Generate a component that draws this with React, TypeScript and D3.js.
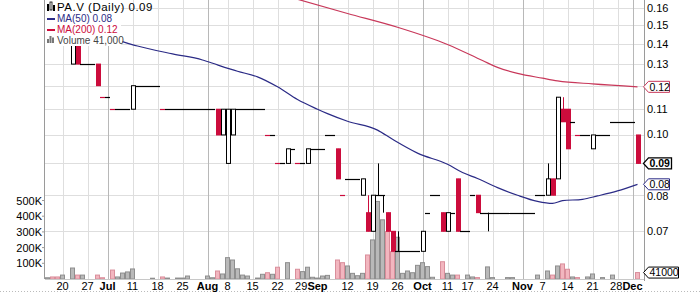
import React from "react";
import * as d3 from "d3";

const dates = ["06-15","06-16","06-17","06-20","06-21","06-22","06-23","06-24","06-27","06-28","06-29","06-30",
"07-04","07-05","07-06","07-07","07-08","07-11","07-12","07-13","07-14","07-15","07-18","07-19","07-20","07-21","07-22","07-25","07-26","07-27","07-28","07-29",
"08-02","08-03","08-04","08-05","08-08","08-09","08-10","08-11","08-12","08-15","08-16","08-17","08-18","08-19","08-22","08-23","08-24","08-25","08-26","08-29","08-30","08-31",
"09-01","09-02","09-06","09-07","09-08","09-09","09-12","09-13","09-14","09-15","09-16","09-19","09-20","09-21","09-22","09-23","09-26","09-27","09-28","09-29","09-30",
"10-03","10-04","10-05","10-06","10-07","10-11","10-12","10-13","10-14","10-17","10-18","10-19","10-20","10-21","10-24","10-25","10-26","10-27","10-28","10-31",
"11-01","11-02","11-03","11-04","11-07","11-08","11-09","11-10","11-11","11-14","11-15","11-16","11-17","11-18","11-21","11-22","11-23","11-24","11-25","11-28","11-29","11-30",
"12-01","12-02"];

const opens = [
.15,.145,.14,.14,.14,.13,.14,.13,.13,.13,
.13,.115,.115,.11,.11,.11,.11,.11,.12,.12,
.12,.12,.12,.11,.11,.11,.11,.11,.11,.11,
.11,.11,.11,.11,.11,.10,.09,.10,.11,.11,
.11,.11,.11,.11,.10,.10,.09,.09,.09,.095,
.09,.09,.09,.095,.095,.095,.10,.10,.095,.08,
.085,.085,.085,.08,.075,.07,.08,.08,.075,.07,
.065,.065,.065,.065,.065,.065,.075,.08,.08,.075,
.07,.075,.085,.07,.07,.08,.08,.075,.075,.075,
.075,.075,.075,.075,.075,.075,.075,.075,.08,.08,
.08,.085,.085,.11,.11,.105,.10,.10,.10,.095,
.10,.10,.10,.105,.105,.105,.105,.105,.10];

const highs = [
.15,.145,.14,.14,.14,.14,.14,.13,.13,.13,
.13,.115,.115,.11,.11,.11,.11,.12,.12,.12,
.12,.12,.12,.11,.11,.11,.11,.11,.11,.11,
.11,.11,.11,.11,.11,.11,.11,.11,.11,.11,
.11,.11,.11,.11,.10,.10,.09,.09,.095,.095,
.09,.09,.095,.095,.095,.095,.10,.10,.095,.08,
.085,.085,.085,.085,.08,.08,.09,.08,.075,.07,
.07,.065,.065,.065,.065,.07,.075,.08,.08,.075,
.075,.075,.085,.07,.07,.08,.08,.075,.075,.075,
.075,.075,.075,.075,.075,.075,.075,.075,.08,.08,
.09,.085,.115,.115,.11,.105,.10,.10,.10,.10,
.10,.10,.10,.105,.105,.105,.105,.105,.10];

const lows = [
.15,.145,.14,.14,.14,.13,.13,.13,.13,.13,
.12,.115,.115,.11,.11,.11,.11,.11,.12,.12,
.12,.12,.12,.11,.11,.11,.11,.11,.11,.11,
.11,.11,.11,.11,.10,.10,.09,.10,.11,.11,
.11,.11,.11,.11,.10,.10,.09,.09,.09,.095,
.09,.09,.09,.095,.095,.095,.10,.10,.085,.08,
.085,.085,.085,.08,.07,.07,.08,.075,.07,.065,
.065,.065,.065,.065,.065,.065,.075,.08,.08,.07,
.07,.075,.07,.07,.07,.08,.075,.075,.07,.075,
.075,.075,.075,.075,.075,.075,.075,.075,.08,.08,
.08,.08,.085,.105,.095,.105,.10,.10,.10,.095,
.10,.10,.10,.105,.105,.105,.105,.105,.09];

const closes = [
.15,.145,.14,.14,.14,.14,.13,.13,.13,.13,
.12,.115,.115,.11,.11,.11,.11,.12,.12,.12,
.12,.12,.12,.11,.11,.11,.11,.11,.11,.11,
.11,.11,.11,.11,.10,.11,.11,.11,.11,.11,
.11,.11,.11,.11,.10,.10,.09,.09,.095,.095,
.09,.09,.095,.095,.095,.095,.10,.10,.085,.08,
.085,.085,.085,.085,.07,.08,.08,.08,.07,.065,
.065,.065,.065,.065,.065,.07,.075,.08,.08,.07,
.075,.075,.07,.07,.07,.08,.075,.075,.075,.075,
.075,.075,.075,.075,.075,.075,.075,.075,.08,.08,
.085,.08,.115,.105,.095,.105,.10,.10,.10,.10,
.10,.10,.10,.105,.105,.105,.105,.105,.09];

// volume in thousands of shares
const volumes = [
8,13,13,25,0,70,25,25,0,0,
25,8,0,57,13,38,45,64,0,0,
0,5,0,13,6,0,6,6,19,0,
0,0,19,8,51,32,136,121,65,25,
19,0,6,30,40,30,75,0,104,0,
62,47,75,11,6,19,23,0,121,104,
83,36,21,36,153,249,494,377,302,174,
266,36,51,40,87,104,79,11,0,110,
36,25,25,0,25,13,9,0,77,9,
0,0,9,9,0,0,0,0,25,0,
51,25,83,96,62,13,9,0,13,32,
0,9,0,25,0,0,0,0,41];

const ma50Dates = ["07-07","07-12","07-21","07-29","08-04","08-10","08-16","08-22","08-26","09-01","09-06","09-12","09-20","09-23","09-30","10-11","10-14","10-19","10-25","10-31","11-04","11-09","11-11","11-17","11-22","11-28","12-02"];
const ma50Values = [0.1413,0.1390,0.1350,0.1320,0.1296,0.1266,0.1240,0.1195,0.1140,0.1100,0.1082,0.1052,0.1018,0.0984,0.0935,0.0897,0.0870,0.0851,0.0823,0.0800,0.0782,0.0776,0.0784,0.0788,0.0798,0.0813,0.0833];

const ma200Dates = ["08-24","09-12","09-26","10-11","10-20","10-25","10-31","11-07","11-10","11-21","12-02"];
const ma200Values = [0.167,0.1568,0.1490,0.1398,0.1317,0.1284,0.1256,0.1234,0.1222,0.1208,0.1195];

const tickDates = ["06-20","06-27","07-04","07-11","07-18","07-25","08-02","08-08","08-15","08-22","08-29","09-01","09-12","09-19","09-26","10-03","10-11","10-17","10-24","11-01","11-07","11-14","11-21","11-28","12-01"];
const tickLabels = ["20","27","Jul","11","18","25","Aug","8","15","22","29","Sep","12","19","26","Oct","11","17","24","Nov","7","14","21","28","Dec"];

const priceTicks = [0.07,0.08,0.09,0.10,0.11,0.12,0.13,0.14,0.15,0.16];
const volumeTicks = [100,200,300,400,500];
const volumeTickLabels = ["100K","200K","300K","400K","500K"];

const symbol = "PA.V (Daily)";
const lastClose = "0.09";
const ma50Label = "MA(50) 0.08";
const ma200Label = "MA(200) 0.12";
const volLabel = "Volume 41,000";
const ma50Tag = "0.08";
const ma200Tag = "0.12";
const volTag = "41000";

const RED = "#cc0c3c";
const NAVY = "#2b2b86";
const MA200C = "#c8385a";
const FONT = "'Liberation Sans', Arial, sans-serif";

function Tag({ y, text, color, bold, w }: { y: number; text: string; color: string; bold?: boolean; w: number }) {
  const x0 = 643.5, h = 5.5;
  const pts = [[x0, y], [x0 + 5, y - h], [x0 + w, y - h], [x0 + w, y + h], [x0 + 5, y + h]].map(p => p.join(",")).join(" ");
  return (
    <g>
      <polygon points={pts} fill="#fff" stroke={color} strokeWidth={bold ? 1.3 : 1} />
      <text x={x0 + 6} y={y + 3.8} fontSize={10.5} fontWeight={bold ? "bold" : "normal"} fill="#000" fontFamily={FONT}>{text}</text>
    </g>
  );
}

export default function App() {
  const L = 45, R = 644, VB = 279;
  const x = d3.scaleBand<string>().domain(dates).range([45, 640]);
  const bw = x.bandwidth();
  const xc = (d: string) => (x(d) as number) + bw / 2;
  const y = d3.scaleLog().domain([0.07, 0.16]).range([231.3, 8]);
  const yv = d3.scaleLinear().domain([0, 500]).range([VB, 200.5]);

  const ma50Line = d3.line<number>().x((_, i) => xc(ma50Dates[i])).y(v => y(v)).curve(d3.curveMonotoneX);
  const ma200Line = d3.line<number>().x((_, i) => xc(ma200Dates[i])).y(v => y(v)).curve(d3.curveMonotoneX);

  const down = (i: number) => i > 0 && closes[i] < closes[i - 1];

  const tagYs = [
    y(ma200Values[ma200Values.length - 1]),
    y(closes[closes.length - 1]),
    y(ma50Values[ma50Values.length - 1]),
  ];
  const hiddenByTag = (t: number) => tagYs.some(ty => Math.abs(ty - y(t)) < 6);

  const isMonth = (s: string) => isNaN(+s);
  const labelW = (s: string) => (isMonth(s) ? 20.5 : 6.1 * s.length);
  const labelX = tickDates.map(d => xc(d));
  for (let k = 0; k < labelX.length - 1; k++) {
    const right = labelX[k] + labelW(tickLabels[k]) / 2;
    const nextLeft = labelX[k + 1] - labelW(tickLabels[k + 1]) / 2;
    if (right > nextLeft) labelX[k] -= right - nextLeft;
  }

  return (
    <svg width={700} height={293} style={{ position: "absolute", left: 0, top: 0, background: "#fff" }}>
      <rect x={0} y={0} width={700} height={293} fill="#fff" />
      {priceTicks.map(t => (
        <line key={"hg" + t} x1={L} x2={R} y1={Math.round(y(t)) + 0.5} y2={Math.round(y(t)) + 0.5} stroke="#dedede" />
      ))}
      {tickDates.map((d, k) => {
        const xx = Math.round(xc(d)) + 0.5;
        return <line key={"vg" + d} x1={xx} x2={xx} y1={0} y2={VB} stroke={isMonth(tickLabels[k]) ? "#b8b8b8" : "#dedede"} />;
      })}
      {dates.map((d, i) => volumes[i] > 0 ? (
        <rect key={"v" + d} x={(x(d) as number) + 0.5} width={bw - 1} y={yv(volumes[i])} height={VB - yv(volumes[i])}
          fill={down(i) ? "#f2b6bf" : "#b9b9b9"} stroke={down(i) ? "#d98e9b" : "#8e8e8e"} strokeWidth={1} />
      ) : null)}
      <path d={ma200Line(ma200Values) || ""} fill="none" stroke={MA200C} strokeWidth={1.2} />
      <path d={ma50Line(ma50Values) || ""} fill="none" stroke={NAVY} strokeWidth={1.2} />
      {dates.map((d, i) => {
        const o = opens[i], h = highs[i], l = lows[i], c = closes[i];
        const col = down(i) ? RED : "#000";
        const cx = Math.round(xc(d)) + 0.5;
        const x0 = x(d) as number;
        const wick = h > l ? <line x1={cx} x2={cx} y1={y(h)} y2={y(l)} stroke={col} /> : null;
        if (o === c) {
          return (
            <g key={"c" + d}>
              {wick}
              <line x1={x0} x2={x0 + bw} y1={Math.round(y(c)) + 0.5} y2={Math.round(y(c)) + 0.5} stroke={col} strokeWidth={1.2} />
            </g>
          );
        }
        const top = y(Math.max(o, c)), bot = y(Math.min(o, c));
        if (c > o) {
          return (
            <g key={"c" + d}>
              {wick}
              <rect x={cx - 2} y={top} width={4} height={bot - top} fill="#fff" stroke={col} strokeWidth={1} />
            </g>
          );
        }
        return (
          <g key={"c" + d}>
            {wick}
            <rect x={cx - 2.5} y={top - 0.5} width={5} height={bot - top + 1} fill={col} />
          </g>
        );
      })}
      <line x1={L - 0.5} x2={L - 0.5} y1={0} y2={VB} stroke="#9a9a9a" />
      <line x1={R + 0.5} x2={R + 0.5} y1={0} y2={VB + 2} stroke="#9a9a9a" />
      <line x1={L} x2={R} y1={VB + 0.5} y2={VB + 0.5} stroke="#c8c8c8" />
      <line x1={0} x2={700} y1={291.5} y2={291.5} stroke="#bbb" strokeDasharray="1,2" />
      {volumeTicks.map((t, k) => (
        <g key={"vt" + t}>
          <line x1={L - 3} x2={L} y1={yv(t)} y2={yv(t)} stroke="#9a9a9a" />
          <text x={42} y={yv(t) + 4} fontSize={11} textAnchor="end" fontFamily={FONT} fill="#000">{volumeTickLabels[k]}</text>
        </g>
      ))}
      {priceTicks.filter(t => !hiddenByTag(t)).map(t => (
        <text key={"pt" + t} x={647} y={y(t) + (t === 0.08 ? 4.6 : 3.5)} fontSize={11} fontFamily={FONT} fill="#000">{t.toFixed(2)}</text>
      ))}
      {tickDates.map((d, k) => {
        const month = isMonth(tickLabels[k]);
        return (
          <text key={"dl" + d} x={labelX[k]} y={290} fontSize={11} fontWeight={month ? "bold" : "normal"} textAnchor="middle" fontFamily={FONT} fill="#000">{tickLabels[k]}</text>
        );
      })}
      <Tag y={tagYs[0]} text={ma200Tag} color={MA200C} w={26} />
      <Tag y={tagYs[1]} text={lastClose} color="#000" bold w={28} />
      <Tag y={tagYs[2]} text={ma50Tag} color={NAVY} w={26} />
      <Tag y={yv(volumes[volumes.length - 1])} text={volTag} color="#000" w={35} />
      <rect x={L} y={0} width={76} height={46} fill="#fff" />
      <g fontFamily={FONT}>
        <rect x={47} y={4} width={2} height={7} fill="#000" />
        <rect x={50} y={2} width={2} height={8} fill="none" stroke="#000" strokeWidth={0.8} />
        <rect x={53} y={5} width={2} height={6} fill="#000" />
        <text x={57} y={11} fontSize={11.5} letterSpacing={0.5} fill="#000">{symbol} {lastClose}</text>
        <line x1={47} x2={55} y1={19} y2={19} stroke={NAVY} strokeWidth={2} />
        <text x={57} y={22} fontSize={10} fill={NAVY}>{ma50Label}</text>
        <line x1={47} x2={55} y1={30} y2={30} stroke={RED} strokeWidth={2} />
        <text x={57} y={33} fontSize={10} fill={RED}>{ma200Label}</text>
        <rect x={47} y={39} width={2} height={4} fill="#777" />
        <rect x={49.5} y={36} width={2} height={7} fill="#777" />
        <rect x={52} y={37.5} width={2} height={5.5} fill="#777" />
        <text x={57} y={44} fontSize={10} fill="#444">{volLabel}</text>
      </g>
    </svg>
  );
}
